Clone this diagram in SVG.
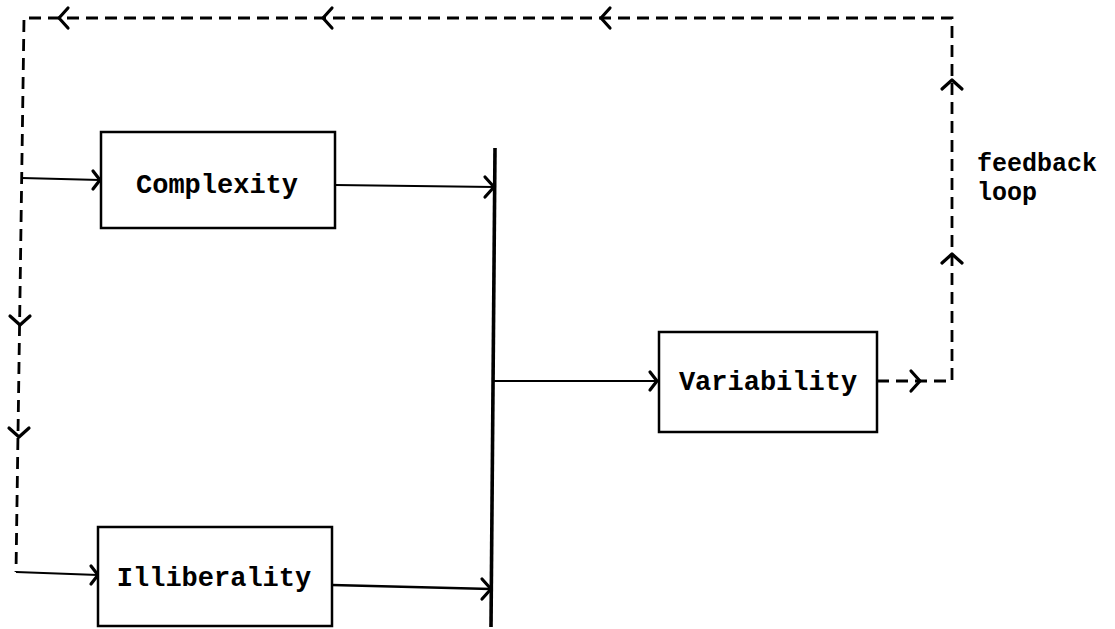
<svg xmlns="http://www.w3.org/2000/svg" width="1115" height="629" viewBox="0 0 1115 629">
<style>
.box{fill:#fff;stroke:#000;stroke-width:2.5}
.lbl{font-family:"Liberation Mono","DejaVu Sans Mono",monospace;font-size:27px;font-weight:bold;fill:#000}
.fb{font-size:25px}
.dash{fill:none;stroke:#000;stroke-width:2.8;stroke-dasharray:12 7}
.solid{fill:none;stroke:#000;stroke-width:2}
.chev{fill:none;stroke:#000;stroke-width:3.2;stroke-linecap:round;stroke-linejoin:round}
</style>
<defs>
<path id="ch" d="M-9,-10 L0,0 L-9,10" class="chev"/>
<path id="chs" d="M-7,-9 L0,0 L-7,9" class="chev"/>
</defs>
<rect width="1115" height="629" fill="#fff"/>
<g id="connectors">
<path class="dash" d="M877,381 L952,381 L952,18 L24,18 L16,572"/>
<use href="#ch" transform="translate(920,381)"/>
<use href="#ch" transform="translate(952,80) rotate(-90)"/>
<use href="#ch" transform="translate(952,254) rotate(-90)"/>
<use href="#ch" transform="translate(601,18) rotate(180)"/>
<use href="#ch" transform="translate(323,18) rotate(180)"/>
<use href="#ch" transform="translate(59,18) rotate(180)"/>
<use href="#ch" transform="translate(20,325) rotate(90)"/>
<use href="#ch" transform="translate(19,437) rotate(90)"/>
<path class="solid" d="M22,178 L100,180"/>
<use href="#chs" transform="translate(100,180)"/>
<path class="solid" d="M16,572 L98,575"/>
<use href="#chs" transform="translate(98,575)"/>
<path class="solid" d="M335,185 L494,187"/>
<use href="#ch" transform="translate(494,187)"/>
<path class="solid" d="M332,585 L491,589" style="stroke-width:2.6"/>
<use href="#ch" transform="translate(491,589)"/>
<path d="M495,148 L491,627" fill="none" stroke="#000" stroke-width="3.6"/>
<path class="solid" d="M494,381 L657,381"/>
<use href="#chs" transform="translate(657,381)"/>
</g>
<g id="complexity">
<rect class="box" x="101" y="132" width="234" height="96"/>
<text class="lbl" x="217" y="193" text-anchor="middle">Complexity</text>
</g>
<g id="illiberality">
<rect class="box" x="98" y="527" width="234" height="99"/>
<text class="lbl" x="214" y="586" text-anchor="middle">Illiberality</text>
</g>
<g id="variability">
<rect class="box" x="659" y="332" width="218" height="100"/>
<text class="lbl" x="768" y="390" text-anchor="middle">Variability</text>
</g>
<g id="feedback-label">
<text class="lbl fb" x="977" y="171">feedback</text>
<text class="lbl fb" x="977" y="200">loop</text>
</g>
</svg>
